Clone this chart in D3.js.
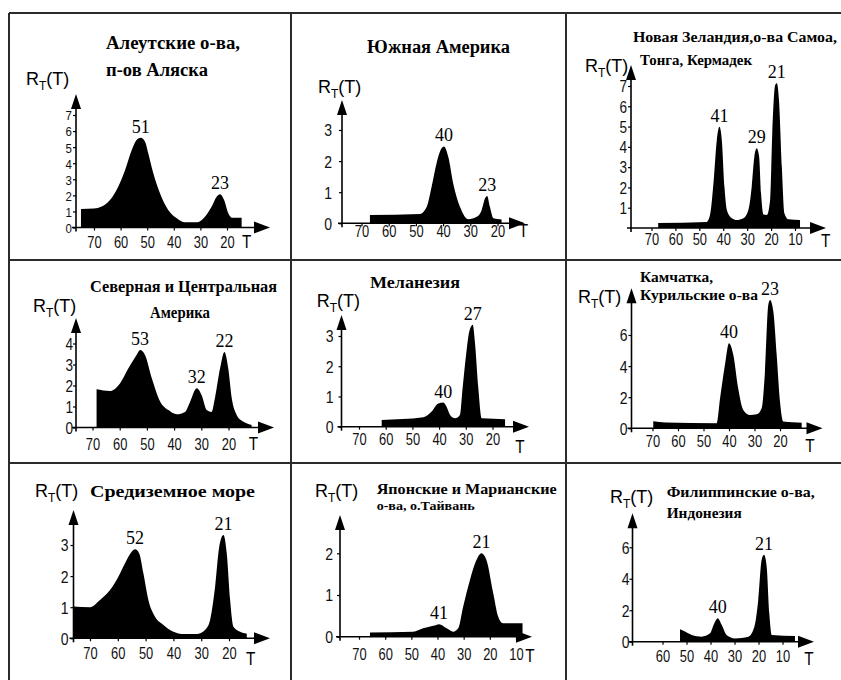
<!DOCTYPE html>
<html><head><meta charset="utf-8">
<script src="https://cdn.jsdelivr.net/npm/d3@7"></script>
<style>body{margin:0;background:#fff}</style>
</head><body><svg id="c" width="841" height="680"></svg>
<script>
// ---------------- DATA ----------------
const titles = [
  ["Алеутские  о-ва,", "п-ов  Аляска"],
  ["Южная Америка"],
  ["Новая Зеландия,о-ва Самоа,", "Тонга, Кермадек"],
  ["Северная  и  Центральная", "Америка"],
  ["Меланезия"],
  ["Камчатка,", "Курильские о-ва"],
  ["Средиземное  море"],
  ["Японские  и Марианские", "о-ва, о.Тайвань"],
  ["Филиппинские  о-ва,", "Индонезия"]
];
const xTicks = [
  [70,60,50,40,30,20],
  [70,60,50,40,30,20],
  [70,60,50,40,30,20,10],
  [70,60,50,40,30,20],
  [70,60,50,40,30,20],
  [70,60,50,40,30,20],
  [70,60,50,40,30,20],
  [70,60,50,40,30,20,10],
  [60,50,40,30,20,10]
];
const yTicks = [
  [0,1,2,3,4,5,6,7],
  [0,1,2,3],
  [1,2,3,4,5,6,7],
  [0,1,2,3,4],
  [0,1,2,3],
  [0,2,4,6],
  [0,1,2,3],
  [0,1,2],
  [0,2,4,6]
];
// series: [T, R_T(T)]
const aleutian = [[74.9,1.15],[70,1.18],[67.1,1.3],[64,1.71],[60.9,2.54],[58.3,3.58],[55.8,4.82],[54,5.45],[52.4,5.59],[50.8,5.34],[49.6,4.62],[47.7,3.37],[45.2,2.13],[42.1,1.09],[38.9,0.57],[35.8,0.32],[31.4,0.32],[28.3,0.67],[25.8,1.29],[23.9,1.92],[22.6,2.07],[21.1,1.71],[19.5,0.88],[18.2,0.61],[14.5,0.6]];
const southAmerica = [[66.9,0.27],[48.5,0.3],[46,0.53],[44.2,1.18],[42.4,1.93],[40.5,2.42],[39.7,2.47],[38.1,2.14],[36.3,1.29],[33.8,0.53],[30.7,0.13],[27.6,0.21],[25.8,0.43],[24.6,0.8],[23.8,0.88],[22.8,0.53],[21.5,0.16],[18.5,0.12]];
const newZealand = [[67.2,0.25],[46.9,0.3],[45.5,0.66],[44.1,2.2],[42.7,4.33],[41.6,4.99],[40.6,4.33],[39.5,2.03],[38.5,0.89],[36.4,0.48],[34.4,0.39],[31.6,0.48],[29.5,0.89],[28.1,2.03],[27,3.51],[26,3.93],[25,3.51],[24.2,1.71],[23.2,0.66],[21.8,0.64],[20.4,1.38],[19.5,4.67],[18.3,7.04],[17.6,7.13],[16.7,6.3],[15.5,3.0],[14.4,0.72],[12.8,0.43],[7.9,0.4]];
const northCentral = [[68.5,1.82],[63.6,1.74],[59.9,2.1],[56.8,2.82],[53.8,3.45],[52.5,3.69],[50.7,3.45],[48.2,2.34],[45.1,1.23],[42.1,0.83],[39,0.63],[36,0.74],[34.1,1.23],[31.7,1.87],[29.9,1.55],[28,0.83],[26.2,0.74],[25,1.39],[23.1,2.82],[21.5,3.6],[20.1,2.82],[18.8,1.39],[17,0.6],[14.6,0.28],[12.1,0.14],[11.5,0.12]];
const melanesia = [[61.5,0.22],[45.9,0.31],[42.8,0.5],[40.3,0.77],[38.4,0.8],[37.2,0.66],[35.9,0.39],[34,0.28],[32.2,0.39],[31.2,1.27],[29.9,2.37],[28.7,3.15],[27.4,3.37],[26.6,2.81],[25.3,1.27],[24,0.28],[15.3,0.25]];
const kamchatka = [[69.7,0.45],[65,0.38],[44.8,0.33],[43.5,1.93],[41.6,4.07],[40,5.47],[38.3,4.71],[36.4,2.57],[34.4,1.18],[31.8,0.86],[29.1,0.9],[27.2,1.29],[25.9,3.64],[24.6,7.93],[23.9,8.25],[22.6,7.5],[21.3,4.71],[20,1.71],[18.7,0.43],[11.5,0.35]];
const mediterranean = [[76,1.02],[70,1.0],[66.4,1.23],[62.8,1.55],[59.8,1.98],[57.4,2.41],[55,2.78],[53.8,2.86],[52.3,2.73],[50.8,2.09],[49,1.23],[46.6,0.69],[43.6,0.43],[40,0.21],[37,0.14],[31.6,0.14],[28.6,0.27],[26.8,0.59],[25,1.66],[23.5,2.95],[22,3.32],[20.8,2.73],[19.6,1.23],[18.4,0.37],[16,0.21],[13.6,0.15]];
const japan = [[65.8,0.1],[49.3,0.12],[45.5,0.2],[41.6,0.26],[39.4,0.3],[36.5,0.2],[34,0.12],[32.1,0.2],[30.2,0.72],[27.6,1.36],[25.1,1.84],[23.2,2.0],[21.3,1.84],[18.7,1.04],[16.8,0.48],[14.9,0.32],[7.5,0.32]];
const philippines = [[52.7,0.79],[51.3,0.7],[47.8,0.43],[43.7,0.32],[40.2,0.53],[38.4,1.17],[37,1.49],[35.3,1.06],[33.3,0.43],[29.8,0.21],[24.2,0.32],[21.7,0.96],[20.1,2.66],[18.7,5.2],[17.7,5.52],[16.6,4.78],[15.5,1.81],[14.5,0.43],[4.8,0.36]];
const series = [aleutian, southAmerica, newZealand, northCentral, melanesia, kamchatka, mediterranean, japan, philippines];
// peak annotations: [label, T, R]
const peaks = [
  [["51",52.4,5.59],["23",22.6,2.07]],
  [["40",39.7,2.47],["23",23.8,0.88]],
  [["41",41.6,4.99],["29",26,3.93],["21",17.6,7.13]],
  [["53",52.5,3.69],["32",31.7,1.87],["22",21.5,3.6]],
  [["40",38.4,0.8],["27",27.4,3.37]],
  [["40",40,5.47],["23",23.9,8.25]],
  [["52",53.8,2.86],["21",22,3.32]],
  [["41",39.4,0.3],["21",23.2,2.0]],
  [["40",37,1.49],["21",17.7,5.52]]
];

// ---------------- LAYOUT ----------------
const layout = [
  {ax:76,   y0:227.5, yMaxPx:115,   yTop:94,    xEnd:270,   xr:[94,227],     gap:4,  yfs:13.5, xlb:20.8, t:[246.7,248.3], r:[26,85],     tl:[[106,48.5,134,18],[106,76,102,18]]},
  {ax:342,  y0:223.3, yMaxPx:130,   yTop:100,   xEnd:525,   xr:[361.5,497.5],gap:10, yfs:16.5, xlb:13.6, t:[523.3,236.7], r:[318,93.3],  tl:[[367,53.3,143,18]]},
  {ax:631,  y0:228,   yMaxPx:86,    yTop:65,    xEnd:826,   xr:[651.5,795],  gap:4,  yfs:16,   xlb:16.7, t:[825.7,246.7], r:[585,71.7],  tl:[[633,41.7,204,15],[640,65,112,15]]},
  {ax:76,   y0:427.5, yMaxPx:343.5, yTop:318,   xEnd:274,   xr:[92.5,228.5], gap:3,  yfs:16,   xlb:22.5, t:[253.3,450],   r:[33,311.7],  tl:[[90,291.7,187,16],[150,318,60,16]]},
  {ax:341.5,y0:426.7, yMaxPx:336,   yTop:315,   xEnd:529,   xr:[359,492.5],  gap:8,  yfs:16.5, xlb:18.3, t:[520,453],     r:[316.7,306.7],tl:[[370,288.3,90,17]]},
  {ax:631.5,y0:428.3, yMaxPx:335,   yTop:288.3, xEnd:822.5, xr:[652.5,780],  gap:4,  yfs:16.5, xlb:18.4, t:[810,451.7],   r:[578,303.3], tl:[[640,281.7,73,15],[640,300,118,15]]},
  {ax:73.5, y0:638.3, yMaxPx:545,   yTop:510,   xEnd:270,   xr:[90,229],     gap:5,  yfs:16.5, xlb:21,   t:[250.7,665],   r:[35,496.7],  tl:[[90,496.7,165,17]]},
  {ax:340,  y0:636.7, yMaxPx:553.3, yTop:515,   xEnd:532,   xr:[359,516],    gap:7,  yfs:16.5, xlb:23.3, t:[530,661.7],   r:[315,496.7], tl:[[376.7,493.5,180,14],[376.7,510,98,13]]},
  {ax:632.5,y0:641.7, yMaxPx:547.3, yTop:513.3, xEnd:814,   xr:[662.5,782.5],gap:3,  yfs:16.5, xlb:20,   t:[809,665],     r:[610,503.3], tl:[[666.7,496.7,148,15],[666.7,518.3,75,15]]}
];

const SANS = "'Liberation Sans', Arial, sans-serif";
const SERIF = "'Liberation Serif', 'Times New Roman', serif";
const svg = d3.select("#c");
svg.append("rect").attr("width",841).attr("height",680).attr("fill","#fff");

// grid frame
const frame = svg.append("g").attr("stroke","#2b2b2b").attr("stroke-width",2);
[[9,13,841,13],[9,260,841,260],[9,463,841,463],[9,13,9,680],[291,13,291,680],[566,13,566,680]]
  .forEach(l=>frame.append("line").attr("x1",l[0]).attr("y1",l[1]).attr("x2",l[2]).attr("y2",l[3]));

series.forEach((data,i)=>{
  const L = layout[i];
  const g = svg.append("g");
  const xt = xTicks[i], yt = yTicks[i];
  const x = d3.scaleLinear().domain([xt[0], xt[xt.length-1]]).range(L.xr);
  const yMax = d3.max(yt);
  const y = d3.scaleLinear().domain([0, yMax]).range([L.y0, L.yMaxPx]);

  // filled area
  const area = d3.area().x(d=>x(d[0])).y0(y(0)).y1(d=>y(d[1])).curve(d3.curveMonotoneX);
  g.append("path").datum(data.slice().sort((a,b)=>b[0]-a[0])).attr("d",area).attr("fill","#000");

  // axis lines with arrows
  g.append("line").attr("x1",L.ax).attr("y1",L.y0+4).attr("x2",L.ax).attr("y2",L.yTop+10)
    .attr("stroke","#000").attr("stroke-width",1.6);
  g.append("line").attr("x1",L.ax-4).attr("y1",L.y0).attr("x2",L.xEnd-10).attr("y2",L.y0)
    .attr("stroke","#000").attr("stroke-width",1.6);
  g.append("path").attr("d",`M${L.ax},${L.yTop}L${L.ax-5},${L.yTop+15}L${L.ax+5},${L.yTop+15}Z`).attr("fill","#000");
  g.append("path").attr("d",`M${L.xEnd},${L.y0}L${L.xEnd-16},${L.y0-6}L${L.xEnd-16},${L.y0+6}Z`).attr("fill","#000");

  // x axis ticks and labels
  const xa = g.append("g").attr("transform",`translate(0,${L.y0})`)
    .call(d3.axisBottom(x).tickValues(xt).tickSize(3).tickFormat(d3.format("d")));
  xa.select(".domain").remove();
  xa.attr("font-family",SANS).attr("font-size",17);
  xa.selectAll("line").attr("stroke-width",1.2);
  xa.selectAll("text").attr("y",L.xlb).attr("dy",0).attr("transform","scale(0.76,1)").attr("fill","#111");

  // y axis ticks and labels
  const ya = g.append("g").attr("transform",`translate(${L.ax},0)`)
    .call(d3.axisLeft(y).tickValues(yt).tickSize(3).tickFormat(d3.format("d")));
  ya.select(".domain").remove();
  ya.attr("font-family",SANS).attr("font-size",L.yfs);
  ya.selectAll("line").attr("stroke-width",1.2);
  ya.selectAll("text").attr("x",0).attr("dy","0.36em")
    .attr("transform",`translate(${-L.gap},0) scale(0.85,1)`).attr("fill","#111");

  // T axis label
  g.append("text").attr("transform",`translate(${L.t[0]},${L.t[1]}) scale(0.85,1)`)
    .attr("text-anchor","middle").attr("font-family",SANS).attr("font-size",18).text("T");

  // R_T(T) axis label
  const rt = g.append("text").attr("x",L.r[0]).attr("y",L.r[1]).attr("font-family",SANS).attr("font-size",18);
  rt.append("tspan").text("R");
  rt.append("tspan").attr("font-size",12).attr("dy",5).text("T");
  rt.append("tspan").attr("dy",-5).text("(T)");

  // peak labels
  g.selectAll(".pk").data(peaks[i]).join("text")
    .attr("x",d=>x(d[1])).attr("y",d=>y(d[2])-5)
    .attr("text-anchor","middle").attr("font-family",SERIF).attr("font-size",18)
    .text(d=>d[0]);

  // titles
  titles[i].forEach((line,k)=>{
    const p = L.tl[k];
    g.append("text").attr("x",p[0]).attr("y",p[1]).attr("font-family",SERIF)
      .attr("font-weight","bold").attr("font-size",p[3])
      .attr("textLength",p[2]).attr("lengthAdjust","spacingAndGlyphs").text(line);
  });
});
</script></body></html>
